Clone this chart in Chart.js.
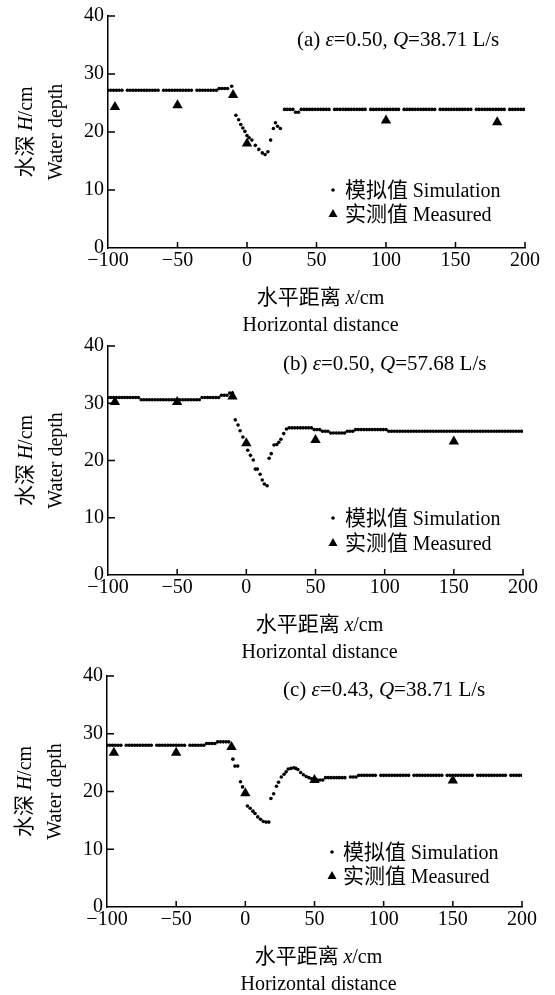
<!DOCTYPE html>
<html lang="zh">
<head>
<meta charset="UTF-8">
<title>水深 Water depth</title>
<script src="https://cdn.jsdelivr.net/npm/chart.js@4/dist/chart.umd.min.js"></script>
<style>
  body { margin: 0; background: #fff; }
  #wrap { position: relative; width: 555px; height: 995px; overflow: hidden; }
  canvas { position: absolute; left: 0; }
</style>
</head>
<body>
<div id="wrap">
  <canvas id="pa" width="555" height="340" style="top:0"></canvas>
  <canvas id="pb" width="555" height="340" style="top:330px"></canvas>
  <canvas id="pc" width="555" height="335" style="top:660px"></canvas>
</div>
<script>
// axis ticks
const xTickValues = [-100, -50, 0, 50, 100, 150, 200]
const yTickValues = [0, 10, 20, 30, 40]

// panel captions
const panelTags = ['a', 'b', 'c']
const epsValues = ['0.50', '0.50', '0.43']
const flowValues = ['38.71', '57.68', '38.71']

// (a) simulation, x in cm, H in cm
const simAx = [
  -100, -98, -96, -94, -92, -90, -86, -84, -82, -80, -78, -76, -74, -72, -70, -68, -66, -64,
  -60, -58, -56, -54, -52, -50, -48, -46, -44, -42, -40, -36, -34, -32, -30, -28, -26, -24, -22,
  -20, -18, -16, -14, -11,
  -8, -6, -4.5, -3, -1.5, 0, 1.5, 3.5, 6, 8.5, 11, 13, 15, 17, 19, 20.5, 22, 24,
  27, 29, 31, 33, 35, 37,
  39, 41, 43, 45, 47, 49, 51, 53, 55, 57, 59,
  63, 65, 67, 69, 71, 73, 75, 77, 79, 81, 83, 85,
  89, 91, 93, 95, 97, 99, 101, 103, 105, 107, 109,
  113, 115, 117, 119, 121, 123, 125, 127, 129, 131, 133, 135,
  139, 141, 143, 145, 147, 149, 151, 153, 155, 157, 159, 161,
  165, 167, 169, 171, 173, 175, 177, 179, 181, 183, 185,
  189, 191, 193, 195, 197, 199
]
const simAh = [
  27.2, 27.2, 27.2, 27.2, 27.2, 27.2, 27.2, 27.2, 27.2, 27.2, 27.2, 27.2, 27.2, 27.2, 27.2, 27.2, 27.2, 27.2,
  27.2, 27.2, 27.2, 27.2, 27.2, 27.2, 27.2, 27.2, 27.2, 27.2, 27.2, 27.2, 27.2, 27.2, 27.2, 27.2, 27.2, 27.2, 27.2,
  27.5, 27.5, 27.5, 27.5, 27.9,
  22.9, 22.1, 21.3, 20.7, 20.1, 19.4, 19.0, 18.6, 17.7, 17.0, 16.4, 16.1, 16.6, 18.6, 20.6, 21.6, 21.0, 20.6,
  23.9, 23.9, 23.9, 23.9, 23.4, 23.4,
  23.9, 23.9, 23.9, 23.9, 23.9, 23.9, 23.9, 23.9, 23.9, 23.9, 23.9,
  23.9, 23.9, 23.9, 23.9, 23.9, 23.9, 23.9, 23.9, 23.9, 23.9, 23.9, 23.9,
  23.9, 23.9, 23.9, 23.9, 23.9, 23.9, 23.9, 23.9, 23.9, 23.9, 23.9,
  23.9, 23.9, 23.9, 23.9, 23.9, 23.9, 23.9, 23.9, 23.9, 23.9, 23.9, 23.9,
  23.9, 23.9, 23.9, 23.9, 23.9, 23.9, 23.9, 23.9, 23.9, 23.9, 23.9, 23.9,
  23.9, 23.9, 23.9, 23.9, 23.9, 23.9, 23.9, 23.9, 23.9, 23.9, 23.9,
  23.9, 23.9, 23.9, 23.9, 23.9, 23.9
]
const measAx = [-95, -50, -10, 0, 100, 180]
const measAh = [24.3, 24.6, 26.4, 18.0, 22.0, 21.7]

// (b)
const simBx = [
  -100, -98, -96, -94, -92, -90, -88, -86, -84, -82, -80, -78,
  -76, -74, -72, -70, -68, -66, -64, -62, -60, -58, -56, -54, -52, -50, -48, -46, -44, -42, -40, -38, -36, -34,
  -32, -30, -28, -26, -24, -22, -20,
  -18, -16, -14,
  -12, -10,
  -8, -6, -4.5, -2.5, -0.5, 1, 3, 5, 6.5, 8, 10, 11.5, 13, 15,
  16.5, 18, 20, 22, 23.5, 25, 27, 29,
  31, 33, 35, 37, 39, 41, 43, 45, 47,
  49, 51, 53,
  55, 57, 59,
  61, 63, 65, 67, 69, 71,
  73, 75, 77,
  79, 81, 83, 85, 87, 89, 91, 93, 95, 97, 99, 101,
  103, 105, 107, 109, 111, 113, 115, 117, 119, 121, 123, 125, 127, 129, 131, 133, 135, 137, 139, 141, 143, 145, 147, 149, 151,
  153, 155, 157, 159, 161, 163, 165, 167, 169, 171, 173, 175, 177, 179, 181, 183, 185, 187, 189, 191, 193, 195, 197, 199
]
const simBh = [
  31.0, 31.0, 31.0, 31.0, 31.0, 31.0, 31.0, 31.0, 31.0, 31.0, 31.0, 31.0,
  30.6, 30.6, 30.6, 30.6, 30.6, 30.6, 30.6, 30.6, 30.6, 30.6, 30.6, 30.6, 30.6, 30.6, 30.6, 30.6, 30.6, 30.6, 30.6, 30.6, 30.6, 30.6,
  31.0, 31.0, 31.0, 31.0, 31.0, 31.0, 31.0,
  31.4, 31.4, 31.4,
  31.8, 31.8,
  27.1, 26.2, 25.2, 24.1, 22.9, 21.8, 20.9, 20.1, 18.5, 18.5, 17.6, 16.6, 15.9, 15.6,
  20.4, 21.2, 22.7, 22.8, 23.2, 23.7, 24.7, 25.5,
  25.7, 25.7, 25.7, 25.7, 25.7, 25.7, 25.7, 25.7, 25.7,
  25.4, 25.4, 25.4,
  25.1, 25.1, 25.1,
  24.8, 24.8, 24.8, 24.8, 24.8, 24.8,
  25.1, 25.1, 25.1,
  25.4, 25.4, 25.4, 25.4, 25.4, 25.4, 25.4, 25.4, 25.4, 25.4, 25.4, 25.4,
  25.1, 25.1, 25.1, 25.1, 25.1, 25.1, 25.1, 25.1, 25.1, 25.1, 25.1, 25.1, 25.1, 25.1, 25.1, 25.1, 25.1, 25.1, 25.1, 25.1, 25.1, 25.1, 25.1, 25.1, 25.1,
  25.1, 25.1, 25.1, 25.1, 25.1, 25.1, 25.1, 25.1, 25.1, 25.1, 25.1, 25.1, 25.1, 25.1, 25.1, 25.1, 25.1, 25.1, 25.1, 25.1, 25.1, 25.1, 25.1, 25.1
]
const measBx = [-95, -50, -10, 0, 50, 150]
const measBh = [30.2, 30.2, 31.2, 23.0, 23.6, 23.3]

// (c)
const simCx = [
  -100, -98, -96, -94, -92, -90,
  -86, -84, -82, -80, -78, -76, -74, -72, -70, -68,
  -64, -62, -60, -58, -56, -54, -52, -50, -48, -46, -44,
  -40, -38, -36, -34, -32, -30,
  -28, -26, -24, -22,
  -20, -18, -16, -14, -12,
  -9, -7.5, -5.5, -3.5, -2, -0.5, 1.5, 3.5, 5.5, 7, 9, 11, 13, 15, 17,
  18.5, 20.5, 22.5, 24, 26, 28, 29.5, 31, 33, 35, 36.5, 38, 40, 42, 44, 46, 48, 50,
  52, 54, 56,
  58, 60, 62, 64, 66, 68, 70, 72,
  76, 78, 80,
  82, 84, 86, 88, 90, 92, 94,
  98, 100, 102, 104, 106, 108, 110, 112, 114, 116, 118,
  122, 124, 126, 128, 130, 132, 134, 136, 138, 140, 142,
  146, 148, 150, 152, 154, 156, 158, 160, 162, 164,
  168, 170, 172, 174, 176, 178, 180, 182, 184, 186, 188,
  192, 194, 196, 198, 200
]
const simCh = [
  28.0, 28.0, 28.0, 28.0, 28.0, 28.0,
  28.0, 28.0, 28.0, 28.0, 28.0, 28.0, 28.0, 28.0, 28.0, 28.0,
  28.0, 28.0, 28.0, 28.0, 28.0, 28.0, 28.0, 28.0, 28.0, 28.0, 28.0,
  28.0, 28.0, 28.0, 28.0, 28.0, 28.0,
  28.3, 28.3, 28.3, 28.3,
  28.6, 28.6, 28.6, 28.6, 28.6,
  25.6, 24.4, 24.4, 21.7, 20.8, 19.9, 17.5, 17.1, 16.6, 16.2, 15.6, 15.2, 14.8, 14.7, 14.7,
  18.8, 19.6, 20.9, 21.6, 22.5, 23.0, 23.4, 23.9, 24.0, 24.1, 24.0, 23.8, 23.3, 22.9, 22.6, 22.4, 22.2, 22.1,
  22.0, 22.0, 22.0,
  22.4, 22.4, 22.4, 22.4, 22.4, 22.4, 22.4, 22.4,
  22.5, 22.5, 22.5,
  22.8, 22.8, 22.8, 22.8, 22.8, 22.8, 22.8,
  22.8, 22.8, 22.8, 22.8, 22.8, 22.8, 22.8, 22.8, 22.8, 22.8, 22.8,
  22.8, 22.8, 22.8, 22.8, 22.8, 22.8, 22.8, 22.8, 22.8, 22.8, 22.8,
  22.8, 22.8, 22.8, 22.8, 22.8, 22.8, 22.8, 22.8, 22.8, 22.8,
  22.8, 22.8, 22.8, 22.8, 22.8, 22.8, 22.8, 22.8, 22.8, 22.8, 22.8,
  22.8, 22.8, 22.8, 22.8, 22.8
]
const measCx = [-95, -50, -10, 0, 50, 150]
const measCh = [26.7, 26.7, 27.7, 19.7, 22.0, 21.9]

const SERIF = '"Liberation Serif", "DejaVu Serif", serif'
const CJK = '"Noto Sans CJK SC", sans-serif'
const fUp = '20px ' + SERIF
const fIt = 'italic 20px ' + SERIF
const fCap = '21px ' + SERIF
const fCapIt = 'italic 21px ' + SERIF
const fCjk = '21px ' + CJK

Chart.defaults.font.family = SERIF
Chart.defaults.font.size = 20
Chart.defaults.color = '#000'

// draws text made of runs with different fonts
function drawRuns(ctx, parts, x, y, align) {
  let w = 0
  parts.forEach(p => { ctx.font = p[1]; w += ctx.measureText(p[0]).width })
  let cx = align === 'center' ? x - w / 2 : x
  ctx.textAlign = 'left'
  ctx.textBaseline = 'alphabetic'
  parts.forEach(p => {
    ctx.font = p[1]
    ctx.fillText(p[0], cx, y)
    cx += ctx.measureText(p[0]).width
  })
}

const panelText = {
  id: 'panelText',
  afterDraw(chart, args, o) {
    const { ctx, chartArea: area, scales } = chart
    ctx.save()
    ctx.fillStyle = '#000'
    ctx.strokeStyle = '#000'
    ctx.lineWidth = 1.5

    // inward tick marks
    ctx.beginPath()
    xTickValues.slice(1).forEach(v => {
      const px = scales.x.getPixelForValue(v)
      ctx.moveTo(px, area.bottom)
      ctx.lineTo(px, area.bottom - 6)
    })
    yTickValues.slice(1).forEach(v => {
      const py = scales.y.getPixelForValue(v)
      ctx.moveTo(area.left, py)
      ctx.lineTo(area.left + 7, py)
    })
    ctx.stroke()

    // caption
    drawRuns(ctx, [['(' + o.tag + ') ', fCap], ['ε', fCapIt], ['=' + o.eps + ', ', fCap], ['Q', fCapIt], ['=' + o.q + ' L/s', fCap]], o.noteX, o.noteY, 'left')

    // legend
    const [r1, r2] = o.rows
    ctx.beginPath()
    ctx.arc(o.markerX, r1, 1.8, 0, Math.PI * 2)
    ctx.fill()
    ctx.beginPath()
    ctx.moveTo(o.markerX, r2 - 5)
    ctx.lineTo(o.markerX + 4.5, r2 + 3)
    ctx.lineTo(o.markerX - 4.5, r2 + 3)
    ctx.closePath()
    ctx.fill()
    drawRuns(ctx, [['模拟值 ', fCjk], ['Simulation', fUp]], o.textX, r1 + 7, 'left')
    drawRuns(ctx, [['实测值 ', fCjk], ['Measured', fUp]], o.textX, r2 + 7, 'left')

    // axis titles
    const cy = (area.top + area.bottom) / 2
    ctx.save()
    ctx.translate(area.left - 76, cy)
    ctx.rotate(-Math.PI / 2)
    drawRuns(ctx, [['水深 ', fCjk], ['H', fIt], ['/cm', fUp]], 0, 0, 'center')
    ctx.restore()
    ctx.save()
    ctx.translate(area.left - 46, cy)
    ctx.rotate(-Math.PI / 2)
    drawRuns(ctx, [['Water depth', fUp]], 0, 0, 'center')
    ctx.restore()

    const cx = (area.left + area.right) / 2 + 4
    drawRuns(ctx, [['水平距离 ', fCjk], ['x', fIt], ['/cm', fUp]], cx, area.bottom + 56, 'center')
    drawRuns(ctx, [['Horizontal distance', fUp]], cx, area.bottom + 83, 'center')
    ctx.restore()
  }
}

const toPoints = (xs, ys) => xs.map((x, i) => ({ x, y: ys[i] }))

const panels = [
  { id: 'pa', simX: simAx, simH: simAh, meaX: measAx, meaH: measAh, height: 340,
    box: { left: 108, right: 525, top: 16, bottom: 248 }, noteX: 297, noteY: 46, markerX: 333, textX: 345, rows: [190, 214] },
  { id: 'pb', simX: simBx, simH: simBh, meaX: measBx, meaH: measBh, height: 340,
    box: { left: 108, right: 523, top: 13, bottom: 245 }, noteX: 283, noteY: 40, markerX: 333, textX: 345, rows: [188, 213] },
  { id: 'pc', simX: simCx, simH: simCh, meaX: measCx, meaH: measCh, height: 335,
    box: { left: 107, right: 522, top: 12, bottom: 247 }, noteX: 283, noteY: 36, markerX: 332, textX: 343, rows: [192, 216] }
]

panels.forEach((p, i) => {
  new Chart(document.getElementById(p.id), {
    type: 'scatter',
    data: {
      datasets: [
        {
          label: '模拟值 Simulation',
          data: toPoints(p.simX, p.simH),
          pointRadius: 1.8,
          pointBorderWidth: 0,
          pointBackgroundColor: '#000'
        },
        {
          label: '实测值 Measured',
          data: toPoints(p.meaX, p.meaH),
          pointStyle: 'triangle',
          pointRadius: 6,
          pointBorderWidth: 0,
          pointBackgroundColor: '#000'
        }
      ]
    },
    options: {
      responsive: false,
      animation: false,
      events: [],
      layout: { padding: { top: p.box.top, right: 555 - p.box.right, left: 0, bottom: 0 } },
      plugins: {
        legend: { display: false },
        tooltip: { enabled: false },
        panelText: {
          tag: panelTags[i], eps: epsValues[i], q: flowValues[i],
          noteX: p.noteX, noteY: p.noteY, markerX: p.markerX, textX: p.textX, rows: p.rows
        }
      },
      scales: {
        x: {
          type: 'linear',
          min: -100,
          max: 200,
          afterBuildTicks: s => { s.ticks = xTickValues.map(v => ({ value: v })) },
          afterFit: s => { s.height = p.height - p.box.bottom },
          grid: { display: false, drawTicks: false },
          border: { color: '#000', width: 1.5 },
          ticks: { padding: 1, callback: v => String(v).replace('-', '\u2212') }
        },
        y: {
          min: 0,
          max: 40,
          afterBuildTicks: s => { s.ticks = yTickValues.map(v => ({ value: v })) },
          afterFit: s => { s.width = p.box.left },
          grid: { display: false, drawTicks: false },
          border: { color: '#000', width: 1.5 },
          ticks: { padding: 4 }
        }
      }
    },
    plugins: [panelText]
  })
})
</script>
</body>
</html>
